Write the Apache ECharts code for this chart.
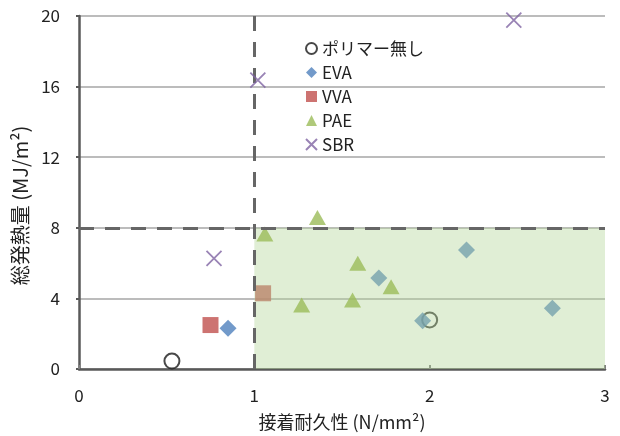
<!DOCTYPE html>
<html>
<head>
<meta charset="utf-8">
<script src="https://cdn.jsdelivr.net/npm/echarts@6/dist/echarts.min.js"></script>
<style>
html,body{margin:0;padding:0;background:#fff;}
#c{width:620px;height:436px;}
</style>
</head>
<body>
<div id="c"></div>
<script>
// ---- data ----
const seriesNames = ['ポリマー無し', 'EVA', 'VVA', 'PAE', 'SBR'];
const noPolymer = [[0.53, 0.45], [2.00, 2.78]];
const eva = [[0.85, 2.31], [1.71, 5.16], [1.96, 2.74], [2.21, 6.74], [2.70, 3.44]];
const vva = [[0.75, 2.49], [1.05, 4.29]];
const pae = [[1.06, 7.65], [1.27, 3.63], [1.56, 3.91], [1.59, 5.99], [1.78, 4.66], [1.36, 8.59]];
const sbr = [[0.77, 6.27], [1.02, 16.37], [2.48, 19.77]];
const xThreshold = 1;
const yThreshold = 8;
const xTicks = [0, 1, 2, 3];
const yTicks = [0, 4, 8, 12, 16, 20];

const font = '"Noto Sans CJK JP", "Open Sans", sans-serif';
const chart = echarts.init(document.getElementById('c'));
const crossPath = 'path://M0,0L10,10M10,0L0,10';
const xMax = xTicks[xTicks.length - 1];
const yMax = yTicks[yTicks.length - 1];

chart.setOption({
  animation: false,
  textStyle: { fontFamily: font },
  grid: { left: 79, right: 15, top: 16, bottom: 67 },
  legend: {
    data: seriesNames,
    orient: 'vertical',
    left: 300,
    top: 35,
    itemWidth: 11,
    itemHeight: 11,
    itemGap: 7,
    textStyle: { fontFamily: font, fontSize: 17, color: '#222' }
  },
  xAxis: {
    type: 'value',
    min: xTicks[0], max: xMax, interval: 1,
    name: '接着耐久性 (N/mm²)',
    nameLocation: 'middle',
    nameGap: 44,
    nameTextStyle: { fontFamily: font, fontSize: 18, color: '#222' },
    axisLine: { show: true, lineStyle: { color: '#595959', width: 2.5 } },
    axisTick: { show: true, inside: true, length: 4, lineStyle: { color: '#7f7f7f', width: 2 } },
    axisLabel: { margin: 18, fontSize: 17, color: '#222', fontFamily: font },
    splitLine: { show: false }
  },
  yAxis: {
    type: 'value',
    min: yTicks[0], max: yMax, interval: 4,
    name: '総発熱量 (MJ/m²)',
    nameLocation: 'middle',
    nameGap: 46,
    nameTextStyle: { fontFamily: font, fontSize: 20, color: '#222', padding: [0, 26, 0, 0] },
    axisLine: { show: true, lineStyle: { color: '#595959', width: 2.5 } },
    axisTick: { show: true, length: 3, lineStyle: { color: '#595959', width: 2 } },
    axisLabel: { margin: 19, fontSize: 17, color: '#222', fontFamily: font },
    splitLine: { show: true, lineStyle: { color: '#a6a6a6', width: 1.5 } }
  },
  series: [
    {
      name: seriesNames[0], type: 'scatter', z: 2, data: noPolymer,
      symbol: 'circle', symbolSize: 15,
      itemStyle: { color: '#ffffff', borderColor: '#1a1a1a', borderWidth: 2 }
    },
    {
      name: seriesNames[1], type: 'scatter', z: 2, data: eva,
      symbol: 'diamond', symbolSize: [17, 17],
      itemStyle: { color: '#4f81bd' }
    },
    {
      name: seriesNames[2], type: 'scatter', z: 2, data: vva,
      symbol: 'rect', symbolSize: 16,
      itemStyle: { color: '#c0504d' }
    },
    {
      type: 'custom', z: 3, silent: true,
      data: [[xThreshold, yTicks[0], xMax, yThreshold]],
      renderItem: function (params, api) {
        const p1 = api.coord([api.value(0), api.value(3)]);
        const p2 = api.coord([api.value(2), api.value(1)]);
        return {
          type: 'rect',
          shape: { x: p1[0], y: p1[1], width: p2[0] - p1[0], height: p2[1] - p1[1] },
          style: { fill: 'rgba(177,212,150,0.4)' }
        };
      }
    },
    {
      name: seriesNames[3], type: 'scatter', z: 4, data: pae,
      symbol: 'triangle', symbolSize: [17, 15],
      itemStyle: { color: '#9bbb59' }
    },
    {
      name: seriesNames[4], type: 'scatter', z: 5, data: sbr,
      symbol: crossPath, symbolSize: 15,
      itemStyle: { color: 'rgba(0,0,0,0)', borderColor: '#8064a2', borderWidth: 1.8 }
    },
    {
      type: 'line', z: 4, data: [], silent: true,
      markLine: {
        silent: true, symbol: 'none', label: { show: false },
        lineStyle: { color: '#666666', width: 3, type: [15, 11] },
        data: [
          [{ coord: [xThreshold, yTicks[0]] }, { coord: [xThreshold, yMax] }],
          [{ coord: [xTicks[0], yThreshold] }, { coord: [xMax, yThreshold] }]
        ]
      }
    }
  ]
});
</script>
</body>
</html>
